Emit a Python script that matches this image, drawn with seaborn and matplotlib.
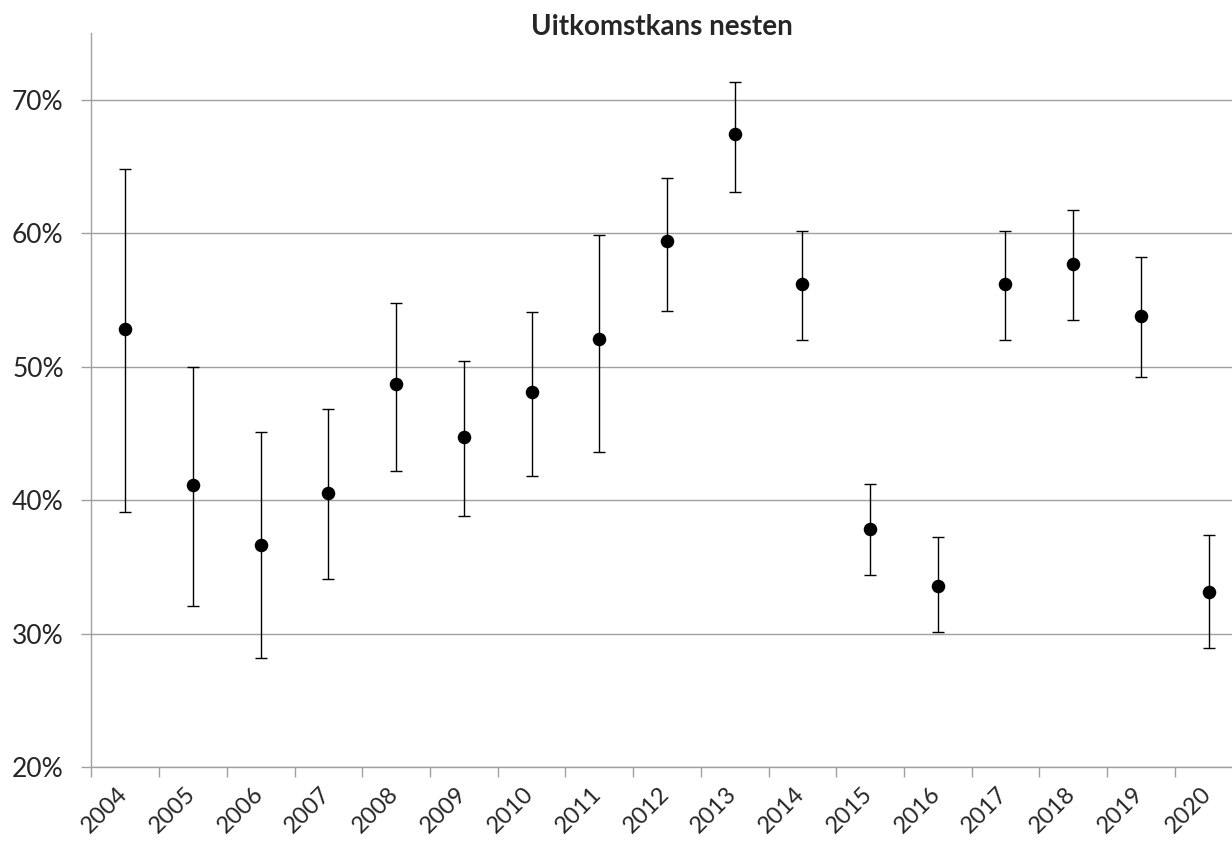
import matplotlib
matplotlib.use("Agg")
import matplotlib.pyplot as plt
import matplotlib.transforms as mtransforms
from matplotlib.ticker import FuncFormatter, FixedLocator
import seaborn as sns
import pandas as pd
import numpy as np

years = ["2004", "2005", "2006", "2007", "2008", "2009", "2010", "2011", "2012",
         "2013", "2014", "2015", "2016", "2017", "2018", "2019", "2020"]
estimate = [52.8, 41.1, 36.6, 40.5, 48.7, 44.7, 48.1, 52.1, 59.4,
            67.4, 56.2, 37.8, 33.6, 56.2, 57.7, 53.8, 33.1]
lower = [39.1, 32.1, 28.2, 34.1, 42.2, 38.8, 41.8, 43.6, 54.2,
         63.1, 52.0, 34.4, 30.1, 52.0, 53.5, 49.2, 28.9]
upper = [64.8, 50.0, 45.1, 46.8, 54.8, 50.4, 54.1, 59.9, 64.1,
         71.3, 60.2, 41.2, 37.2, 60.2, 61.7, 58.2, 37.4]
yticks = [20, 30, 40, 50, 60, 70]

df = pd.DataFrame({"jaar": years, "kans": estimate, "lo": lower, "hi": upper})

sns.set_theme(style="white")
plt.rcParams["font.family"] = ["Lato", "DejaVu Sans"]

fig = plt.figure(figsize=(12.32, 8.43), dpi=100)
ax = fig.add_axes([91.5 / 1232, 1 - 767 / 843, 1 - 91.5 / 1232, (767 - 33) / 843])

grid_c = "#a0a0a0"
ax.errorbar(df["jaar"], df["kans"],
            yerr=[df["kans"] - df["lo"], df["hi"] - df["kans"]],
            fmt="none", ecolor="black", elinewidth=1.0, capsize=4.5, capthick=1.0, zorder=3)
sns.scatterplot(data=df, x="jaar", y="kans", ax=ax, color="black", s=95,
                edgecolor="black", linewidth=0, zorder=4)

ax.set_ylim(20, 75)
ax.set_xlim(-0.5, (1232 - 91.5) / 67.7 - 0.5)
ax.yaxis.set_major_locator(FixedLocator(yticks))
ax.yaxis.set_major_formatter(FuncFormatter(lambda v, p: f"{v:.0f}%"))
ax.grid(axis="y", color=grid_c, linewidth=1.0)
ax.grid(axis="x", visible=False)
ax.set_axisbelow(True)

for s in ["top", "right"]:
    ax.spines[s].set_visible(False)
for s in ["left", "bottom"]:
    ax.spines[s].set_color(grid_c)
    ax.spines[s].set_linewidth(1.0)

ax.set_xlabel("")
ax.set_ylabel("")
ax.set_xticks(range(len(years)))
ax.set_xticklabels(years)
ax.xaxis.set_minor_locator(FixedLocator(np.arange(-0.5, len(years), 1.0)))
ax.tick_params(axis="x", which="major", length=0, labelsize=17, pad=17)
ax.tick_params(axis="x", which="minor", length=7, width=1, color=grid_c, direction="out", bottom=True)
ax.tick_params(axis="y", which="major", length=7, width=1, color=grid_c, direction="out",
               labelsize=19, pad=13, left=True)

offset = mtransforms.ScaledTranslation(-1 / 100, 0, fig.dpi_scale_trans)
for lab in ax.get_xticklabels():
    lab.set_rotation(45)
    lab.set_ha("right")
    lab.set_va("center")
    lab.set_rotation_mode("anchor")
    lab.set_transform(lab.get_transform() + offset)

fig.text(662 / 1232, 1 - 27 / 843, "Uitkomstkans nesten", ha="center", va="center",
         fontsize=20, fontweight="bold")

fig.savefig("out.png", dpi=100)
